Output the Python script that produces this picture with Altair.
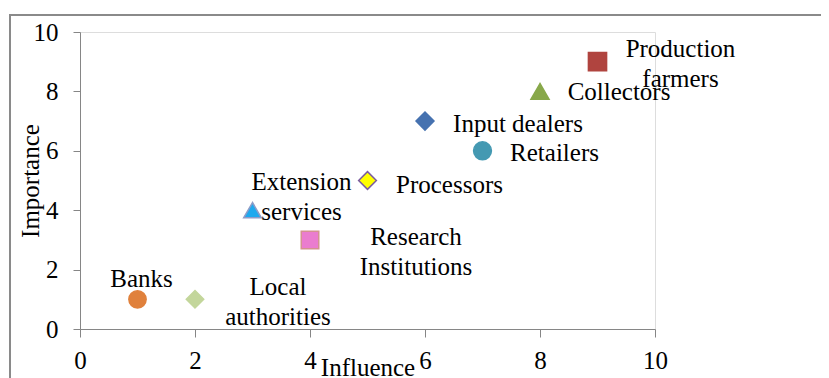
import altair as alt
import pandas as pd

categories = ["Banks", "Local authorities", "Research Institutions", "Extension services",
              "Processors", "Retailers", "Input dealers", "Collectors", "Production farmers"]
influence = [1, 2, 4, 3, 5, 7, 6, 8, 9]
importance = [1, 1, 3, 4, 5, 6, 7, 8, 9]
labels = ["Banks", "Local\nauthorities", "Research\nInstitutions", "Extension\nservices",
          "Processors", "Retailers", "Input dealers", "Collectors", "Production\nfarmers"]
tick_values = [0, 2, 4, 6, 8, 10]

# styles (not data)
shapes = ["circle", "diamond", "square", "triangle-up", "diamond", "circle", "diamond", "triangle-up", "square"]
fills = ["#E0813C", "#C3D69B", "#EA7CCF", "#1FA9EE", "#FFFF00", "#4499B2", "#4672B0", "#88A84A", "#B0443F"]
strokes = ["#E0813C", "#C3D69B", "#D4928F", "#8E9CC8", "#7A5CA0", "#4499B2", "#4672B0", "#88A84A", "#B0443F"]
sizes = [300, 330, 330, 330, 200, 300, 330, 400, 380]
label_dx = [4, 83, 106, 49, 82, 72, 93, 79, 83]
label_dy = [-12, -4, 5, -20, 12, 10, 11, 9, -5]

df = pd.DataFrame({"cat": categories, "influence": influence, "importance": importance})

FONT = "Liberation Serif"
W, H = 575, 297

xs = alt.Scale(domain=[0, 10], nice=False)
ys = alt.Scale(domain=[0, 10], nice=False)

points = alt.Chart(df).mark_point(filled=True, opacity=1, strokeWidth=1.5).encode(
    x=alt.X("influence:Q", scale=xs, axis=alt.Axis(
        values=tick_values, format="d", title="Influence", grid=False, labelFlush=False,
        titleFont=FONT, titleFontSize=25, titleFontWeight="normal", titleColor="black",
        titleX=W / 2, titleY=46, titleBaseline="alphabetic", titleAlign="center",
        labelFont=FONT, labelFontSize=25, labelColor="black", labelPadding=11,
        tickSize=8, domainColor="#868686", tickColor="#868686")),
    y=alt.Y("importance:Q", scale=ys, axis=alt.Axis(
        values=tick_values, format="d", title="Importance", grid=False, labelFlush=False,
        titleFont=FONT, titleFontSize=25, titleFontWeight="normal", titleColor="black",
        titleX=-50, titleY=H / 2, titleAngle=-90, titleBaseline="middle", titleAlign="center",
        labelFont=FONT, labelFontSize=25, labelColor="black", labelPadding=15,
        tickSize=7, domainColor="#868686", tickColor="#868686")),
    fill=alt.Fill("cat:N", scale=alt.Scale(domain=categories, range=fills), legend=None),
    stroke=alt.Stroke("cat:N", scale=alt.Scale(domain=categories, range=strokes), legend=None),
    shape=alt.Shape("cat:N", scale=alt.Scale(domain=categories, range=shapes), legend=None),
    size=alt.Size("cat:N", scale=alt.Scale(domain=categories, range=sizes), legend=None),
)

text_layers = []
for i, c in enumerate(categories):
    sub = pd.DataFrame({"influence": [influence[i]], "importance": [importance[i]], "label": [labels[i]]})
    t = alt.Chart(sub).mark_text(
        font=FONT, fontSize=25, color="black", align="center", baseline="alphabetic",
        lineBreak="\n", lineHeight=30, dx=label_dx[i], dy=label_dy[i]
    ).encode(x=alt.X("influence:Q", scale=xs), y=alt.Y("importance:Q", scale=ys), text="label:N")
    text_layers.append(t)

frame_data = alt.Data(values=[{}])
left_rule = alt.Chart(frame_data).mark_rule(color="#8a8a8a", strokeWidth=2).encode(
    x=alt.value(-70), y=alt.value(-17), y2=alt.value(H + 60))
top_rule = alt.Chart(frame_data).mark_rule(color="#8a8a8a", strokeWidth=2).encode(
    x=alt.value(-71), x2=alt.value(760), y=alt.value(-17))

chart = alt.layer(left_rule, top_rule, points, *text_layers).properties(
    width=W, height=H,
    autosize=alt.AutoSizeParams(type="none"),
    padding={"left": 72, "top": 24, "right": 166, "bottom": 49},
).configure_view(stroke=None).configure(background="white")

chart.save("out.html", embed_options={"renderer": "svg", "actions": False})
